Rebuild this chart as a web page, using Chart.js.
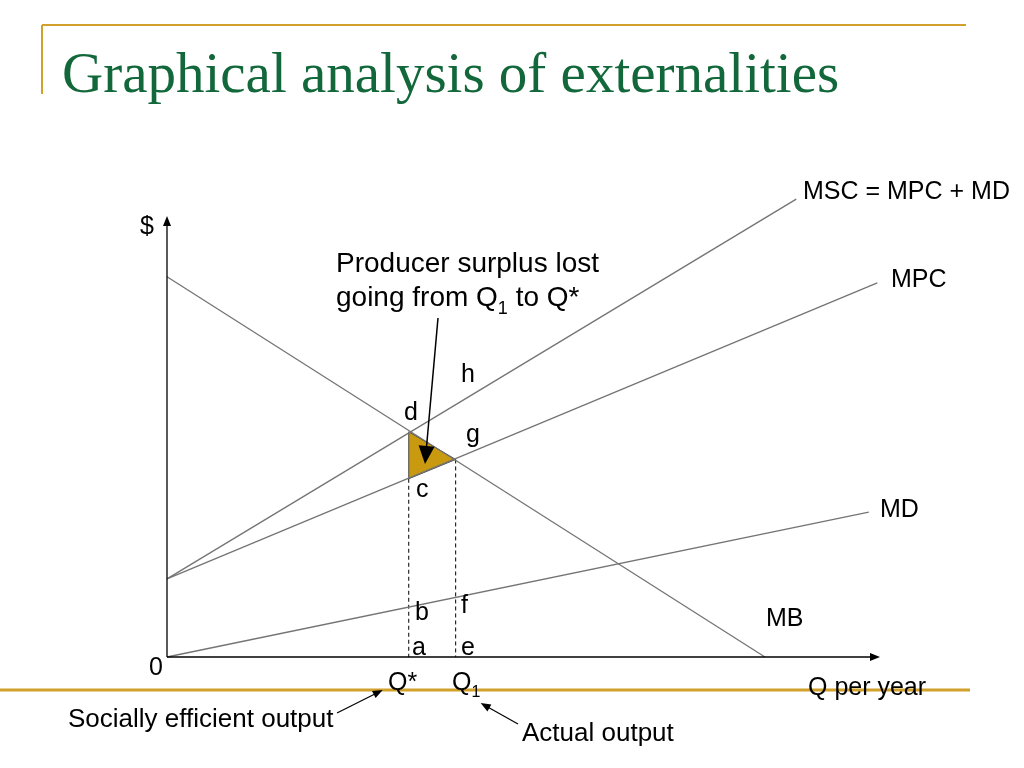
<!DOCTYPE html>
<html>
<head>
<meta charset="utf-8">
<script src="https://cdn.jsdelivr.net/npm/chart.js"></script>
<style>
  html, body { margin: 0; padding: 0; background: #fff; }
  #wrap { position: relative; width: 1024px; height: 768px; overflow: hidden; }
</style>
</head>
<body>
<div id="wrap"><canvas id="ext-chart" width="1024" height="768"></canvas></div>
<script>
// curve end points, in (quantity, $) units
const mbLine  = [[0, 86.6], [84.1, 0]];
const mscLine = [[0, 17.8], [88.5, 104.3]];
const mpcLine = [[0, 17.8], [99.9, 85.2]];
const mdLine  = [[0, 0], [98.7, 33.0]];

// quantities and the lost-surplus triangle d, g, c
const qStar = 34.0;
const q1 = 40.6;
const pointD = [34.0, 51.3];
const pointG = [40.6, 45.0];
const pointC = [34.0, 40.6];

const xRange = [0, 100];
const yRange = [0, 100];

const xy = pts => pts.map(p => ({ x: p[0], y: p[1] }));

const curve = (label, pts) => ({
  label: label,
  data: xy(pts),
  borderColor: '#747474',
  borderWidth: 1.3,
  pointRadius: 0,
  fill: false,
  clip: false
});

const guide = (label, pts) => ({
  label: label,
  data: xy(pts),
  borderColor: '#000',
  borderWidth: 1,
  borderDash: [4, 3],
  pointRadius: 0,
  fill: false,
  clip: false
});

const sans = size => size + 'px "Liberation Sans", Arial, sans-serif';

//Arrow helper//
function arrow(ctx, x1, y1, x2, y2, len, half) {
  const a = Math.atan2(y2 - y1, x2 - x1);
  ctx.beginPath();
  ctx.moveTo(x1, y1);
  ctx.lineTo(x2 - Math.cos(a) * len * 0.6, y2 - Math.sin(a) * len * 0.6);
  ctx.stroke();
  ctx.beginPath();
  ctx.moveTo(x2, y2);
  ctx.lineTo(x2 - Math.cos(a) * len - Math.sin(a) * half, y2 - Math.sin(a) * len + Math.cos(a) * half);
  ctx.lineTo(x2 - Math.cos(a) * len + Math.sin(a) * half, y2 - Math.sin(a) * len - Math.cos(a) * half);
  ctx.closePath();
  ctx.fill();
}

// text with a subscript part, font is put back afterwards
function textSub(ctx, parts, x, y, size) {
  parts.forEach(p => {
    if (p.sub) {
      ctx.font = sans(Math.round(size * 0.65));
      ctx.fillText(p.t, x, y + size * 0.27);
    } else {
      ctx.font = sans(size);
      ctx.fillText(p.t, x, y);
    }
    x += ctx.measureText(p.t).width;
  });
  ctx.font = sans(size);
  return x;
}

const slidePlugin = {
  id: 'slidePlugin',
  beforeDraw(chart) {
    const ctx = chart.ctx;
    ctx.save();
    ctx.fillStyle = '#fff';
    ctx.fillRect(0, 0, chart.width, chart.height);

    // gold slide rules
    ctx.strokeStyle = '#D2A12C';
    ctx.lineWidth = 2;
    ctx.beginPath();
    ctx.moveTo(42, 25); ctx.lineTo(966, 25);
    ctx.moveTo(42, 25); ctx.lineTo(42, 94);
    ctx.stroke();
    ctx.lineWidth = 3;
    ctx.beginPath();
    ctx.moveTo(0, 690); ctx.lineTo(970, 690);
    ctx.stroke();

    // title
    ctx.fillStyle = '#12683A';
    ctx.font = '57px "Liberation Serif", "Times New Roman", serif';
    ctx.fillText('Graphical analysis of externalities', 62, 92);
    ctx.restore();
  },
  afterDraw(chart) {
    const ctx = chart.ctx;
    const x = chart.scales.x, y = chart.scales.y;
    const x0 = x.getPixelForValue(xRange[0]);
    const y0 = y.getPixelForValue(yRange[0]);
    const xEnd = x.getPixelForValue(xRange[1]);
    const yEnd = y.getPixelForValue(yRange[1]);

    ctx.save();
    ctx.strokeStyle = '#000';
    ctx.fillStyle = '#000';
    ctx.lineWidth = 1.3;
    // axes with arrow heads
    arrow(ctx, x0, y0, x0, yEnd - 2, 10, 4);
    arrow(ctx, x0, y0, xEnd + 2, y0, 10, 4);

    const f = 25;
    ctx.font = sans(f);
    ctx.textBaseline = 'alphabetic';
    ctx.fillText('$', 140, 234);
    ctx.fillText('0', 149, 675);
    ctx.fillText('MSC = MPC + MD', 803, 199);
    ctx.fillText('MPC', 891, 287);
    ctx.fillText('MD', 880, 517);
    ctx.fillText('MB', 766, 626);
    ctx.fillText('Q per year', 808, 695);

    // point letters
    ctx.fillText('h', 461, 382);
    ctx.fillText('d', 404, 420);
    ctx.fillText('g', 466, 442);
    ctx.fillText('c', 416, 497);
    ctx.fillText('b', 415, 620);
    ctx.fillText('f', 461, 613);
    ctx.fillText('a', 412, 655);
    ctx.fillText('e', 461, 655);

    ctx.fillText('Q*', 388, 690);
    textSub(ctx, [{ t: 'Q' }, { t: '1', sub: true }], 452, 690, f);

    ctx.font = sans(26);
    ctx.fillText('Socially efficient output', 68, 727);
    ctx.fillText('Actual output', 522, 741);

    // annotation
    const g = 28;
    ctx.font = sans(g);
    ctx.fillText('Producer surplus lost', 336, 272);
    textSub(ctx, [{ t: 'going from Q' }, { t: '1', sub: true }, { t: ' to Q*' }], 336, 306, g);

    // arrows
    ctx.lineWidth = 1.5;
    arrow(ctx, 438, 318, 425, 464, 18, 8);
    ctx.lineWidth = 1.2;
    arrow(ctx, 337, 713, x.getPixelForValue(qStar) - 26, 690, 10, 4);
    arrow(ctx, 518, 724, x.getPixelForValue(q1) + 25, 703, 10, 4);
    ctx.restore();
  }
};

new Chart(document.getElementById('ext-chart'), {
  type: 'line',
  data: {
    datasets: [
      curve('MB', mbLine),
      curve('MSC = MPC + MD', mscLine),
      curve('MPC', mpcLine),
      curve('MD', mdLine),
      guide('Q*', [[qStar, pointC[1]], [qStar, 0]]),
      guide('Q1', [[q1, pointG[1]], [q1, 0]]),
      {
        label: 'Producer surplus lost',
        data: xy([pointD, pointG, pointC, pointD]),
        borderColor: '#4a4a4a',
        borderWidth: 1,
        backgroundColor: '#C99A10',
        fill: 'shape',
        pointRadius: 0,
        clip: false
      }
    ]
  },
  options: {
    responsive: false,
    animation: false,
    devicePixelRatio: 1,
    events: [],
    layout: { padding: { left: 167, top: 218, right: 146, bottom: 111 } },
    scales: {
      x: { type: 'linear', min: xRange[0], max: xRange[1], display: false },
      y: { type: 'linear', min: yRange[0], max: yRange[1], display: false }
    },
    elements: { line: { tension: 0 } },
    plugins: {
      legend: { display: false },
      tooltip: { enabled: false },
      title: { display: false }
    }
  },
  plugins: [slidePlugin]
});
</script>
</body>
</html>
